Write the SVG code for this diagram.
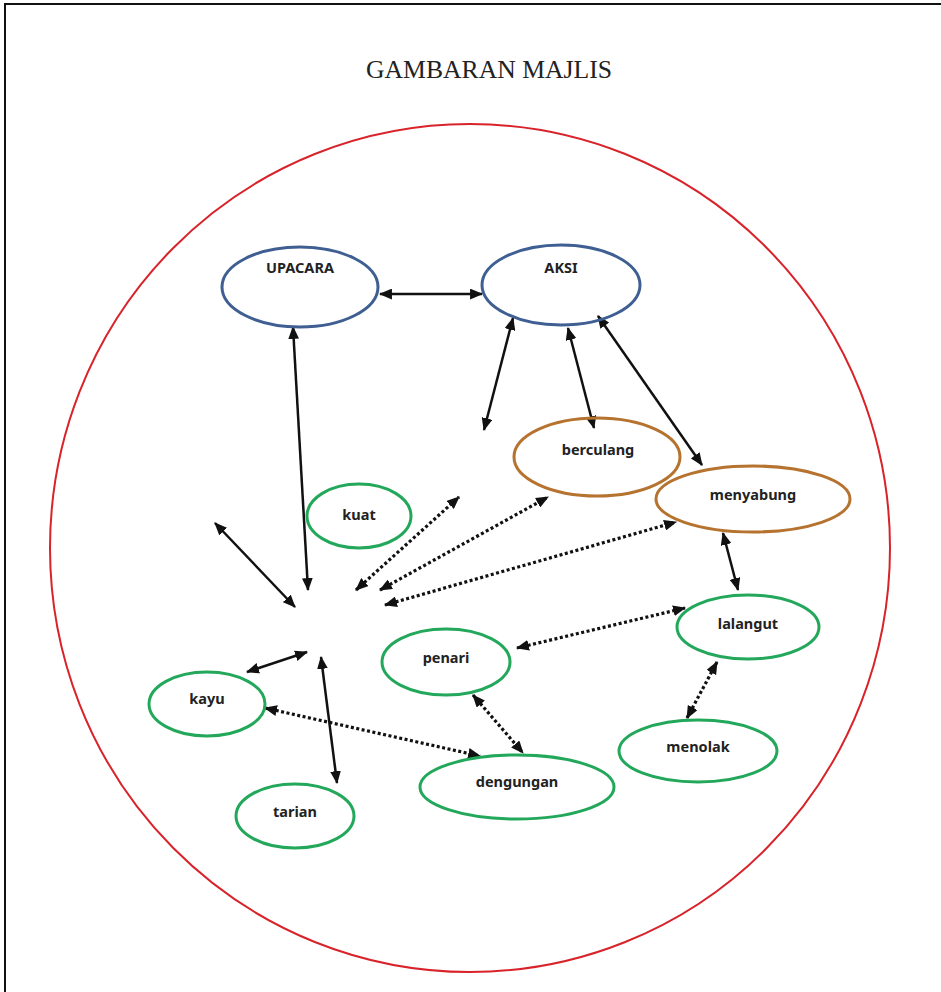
<svg xmlns="http://www.w3.org/2000/svg" width="941" height="992" viewBox="0 0 941 992">
<style>
.lbl{font-family:"Noto Sans","Open Sans",sans-serif;font-weight:700;font-size:14.5px;fill:#222;text-anchor:middle}
.blue{fill:none;stroke:#3F5F93;stroke-width:3}
.brown{fill:none;stroke:#B5732F;stroke-width:3}
.green{fill:none;stroke:#23A85B;stroke-width:3}
.solid{stroke:#111;stroke-width:2.5;fill:none;marker-start:url(#ah);marker-end:url(#ah)}
.dot{stroke:#111;stroke-width:3.2;fill:none;stroke-dasharray:3 2.5;marker-start:url(#ah);marker-end:url(#ah)}
</style>
<defs>
<marker id="ah" viewBox="0 0 12 10" markerUnits="userSpaceOnUse" markerWidth="13" markerHeight="11" refX="11" refY="5" orient="auto-start-reverse">
<path d="M0,0 L12,5 L0,10 z" fill="#111"/>
</marker>
</defs>
<rect x="0" y="0" width="941" height="992" fill="#fff"/>
<rect x="5" y="4" width="950" height="1000" fill="none" stroke="#111" stroke-width="2"/>
<text x="489" y="78" font-family="Liberation Serif,serif" font-size="25" fill="#222" text-anchor="middle" textLength="246" lengthAdjust="spacingAndGlyphs">GAMBARAN MAJLIS</text>
<ellipse cx="470" cy="548" rx="420" ry="424" fill="none" stroke="#D8232A" stroke-width="2"/>

<g id="connectors">
<line class="solid" x1="380" y1="294" x2="482" y2="294"/>
<line class="solid" x1="293" y1="327" x2="308" y2="590"/>
<line class="solid" x1="513" y1="318" x2="484" y2="430"/>
<line class="solid" x1="568" y1="328" x2="594" y2="428"/>
<line class="solid" x1="598" y1="316" x2="702" y2="465"/>
<line class="solid" x1="723" y1="533" x2="738" y2="590"/>
<line class="solid" x1="215" y1="523" x2="295" y2="607"/>
<line class="solid" x1="247" y1="672" x2="307" y2="652"/>
<line class="solid" x1="321" y1="657" x2="337" y2="783"/>
<line class="dot" x1="356" y1="590" x2="459" y2="497"/>
<line class="dot" x1="380" y1="590" x2="548" y2="497"/>
<line class="dot" x1="385" y1="605" x2="676" y2="522"/>
<line class="dot" x1="517" y1="648" x2="685" y2="608"/>
<line class="dot" x1="717" y1="662" x2="687" y2="718"/>
<line class="dot" x1="473" y1="695" x2="523" y2="753"/>
<line class="dot" x1="265" y1="708" x2="480" y2="756"/>
</g>

<g id="node-upacara"><ellipse class="blue" cx="300" cy="287" rx="78" ry="40"/><text class="lbl" x="300" y="273">UPACARA</text></g>
<g id="node-aksi"><ellipse class="blue" cx="561" cy="285" rx="79" ry="40"/><text class="lbl" x="561" y="273">AKSI</text></g>
<g id="node-berculang"><ellipse class="brown" cx="597" cy="457" rx="83" ry="39"/><text class="lbl" x="598" y="455">berculang</text></g>
<g id="node-menyabung"><ellipse class="brown" cx="753" cy="499" rx="97" ry="33"/><text class="lbl" x="753" y="500">menyabung</text></g>
<g id="node-kuat"><ellipse class="green" cx="359" cy="516" rx="52" ry="32"/><text class="lbl" x="359" y="520">kuat</text></g>
<g id="node-lalangut"><ellipse class="green" cx="748" cy="627" rx="71" ry="32"/><text class="lbl" x="748" y="629">lalangut</text></g>
<g id="node-penari"><ellipse class="green" cx="446" cy="662" rx="64" ry="33"/><text class="lbl" x="446" y="663">penari</text></g>
<g id="node-kayu"><ellipse class="green" cx="207" cy="704" rx="58" ry="32"/><text class="lbl" x="207" y="704">kayu</text></g>
<g id="node-menolak"><ellipse class="green" cx="698" cy="751" rx="79" ry="31"/><text class="lbl" x="698" y="752">menolak</text></g>
<g id="node-dengungan"><ellipse class="green" cx="517" cy="787" rx="97" ry="32"/><text class="lbl" x="517" y="787">dengungan</text></g>
<g id="node-tarian"><ellipse class="green" cx="295" cy="816" rx="59" ry="32"/><text class="lbl" x="295" y="817">tarian</text></g>
</svg>
